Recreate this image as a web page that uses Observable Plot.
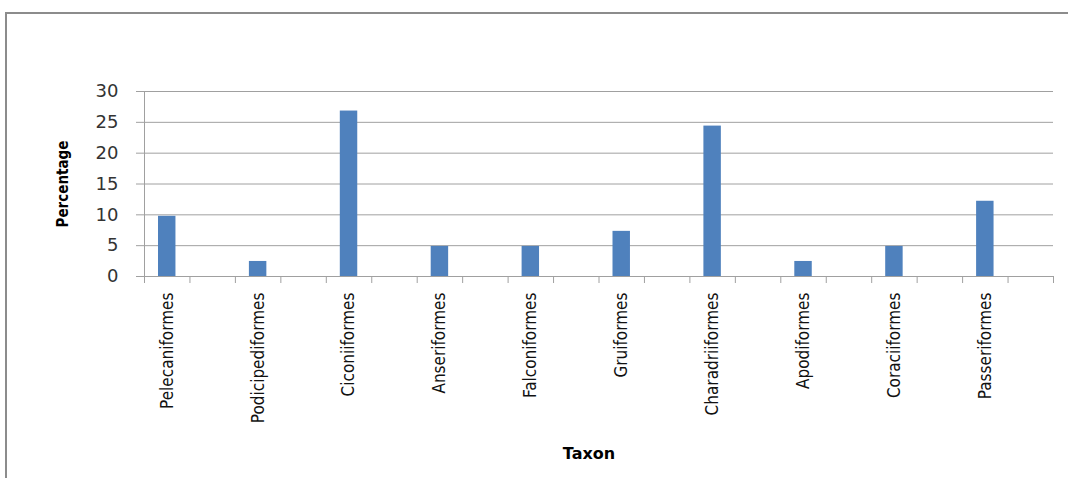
<!DOCTYPE html>
<html>
<head>
<meta charset="utf-8">
<script src="https://cdn.jsdelivr.net/npm/d3@7"></script>
<script src="https://cdn.jsdelivr.net/npm/@observablehq/plot@0.6"></script>
<style>
  html, body { margin: 0; padding: 0; background: #fff; }
  #wrap { position: relative; width: 1068px; height: 478px; overflow: hidden; }
  #frame {
    position: absolute; left: 5px; top: 12px; width: 1100px; height: 500px;
    border-top: 2px solid #8c8c8c; border-left: 2px solid #8c8c8c;
    pointer-events: none;
  }
  #chart { position: absolute; left: 0; top: 0; }
</style>
</head>
<body>
<div id="wrap">
  <div id="chart"></div>
  <div id="frame"></div>
</div>
<script>
// Share of recorded bird species per order (%)
const taxa = [
  "Pelecaniformes", "Podicipediformes", "Ciconiiformes", "Anseriformes", "Falconiformes",
  "Gruiformes", "Charadriiformes", "Apodiformes", "Coraciiformes", "Passeriformes"
];
const percentages = [9.76, 2.44, 26.83, 4.88, 4.88, 7.32, 24.39, 2.44, 4.88, 12.2];
const yTicks = [0, 5, 10, 15, 20, 25, 30];

// Each order sits in every other category slot, leaving an empty slot after it
const slotCount = taxa.length * 2;
const rows = taxa.map((taxon, i) => ({ taxon, pct: percentages[i], slot: i * 2 }));

const gridColor = "#a0a0a0";
const labelFont = "'DejaVu Sans Condensed', 'Liberation Sans Narrow', sans-serif";

const chart = Plot.plot({
  width: 1068,
  height: 478,
  marginLeft: 144,
  marginRight: 15,
  marginTop: 91,
  marginBottom: 202,
  style: { background: "transparent", overflow: "visible" },
  x: { type: "linear", domain: [0, slotCount], axis: null },
  y: { domain: [0, 30], axis: null },
  marks: [
    // horizontal gridlines
    Plot.ruleY(yTicks, { stroke: gridColor, strokeWidth: 1 }),
    // value axis line
    Plot.ruleX([0], { stroke: gridColor, strokeWidth: 1 }),
    // value axis ticks and labels
    Plot.axisY(yTicks, {
      tickSize: 8, tickPadding: 18, stroke: gridColor, fill: "#333",
      fontSize: 18, fontFamily: "'DejaVu Sans', sans-serif",
      style: { letterSpacing: "1px" }, label: null
    }),
    // category boundary ticks
    Plot.axisX(d3.range(slotCount + 1), {
      tickSize: 7, stroke: gridColor, tickFormat: () => "", label: null
    }),
    // category names, rotated
    Plot.axisX(rows.map(d => d.slot + 0.5), {
      tickSize: 0, tickPadding: 16, tickRotate: -90,
      tickFormat: v => taxa[(v - 0.5) / 2],
      fontSize: 17, fontFamily: labelFont, fill: "#111", label: null
    }),
    // bars
    Plot.rectY(rows, {
      x1: "slot", x2: d => d.slot + 1, y1: 0, y2: "pct",
      fill: "#4f81bd", insetLeft: 14, insetRight: 14
    }),
    // axis titles
    Plot.text(["Percentage"], {
      frameAnchor: "left", textAnchor: "middle", rotate: -90, dx: -81,
      fontSize: 15, fontWeight: "bold", fontFamily: labelFont, fill: "#000"
    }),
    Plot.text(["Taxon"], {
      frameAnchor: "bottom", lineAnchor: "middle", dy: 177, dx: -10,
      fontSize: 16, fontWeight: "bold", fontFamily: "'DejaVu Sans', sans-serif", fill: "#000"
    })
  ]
});

document.getElementById("chart").appendChild(chart);
</script>
</body>
</html>
